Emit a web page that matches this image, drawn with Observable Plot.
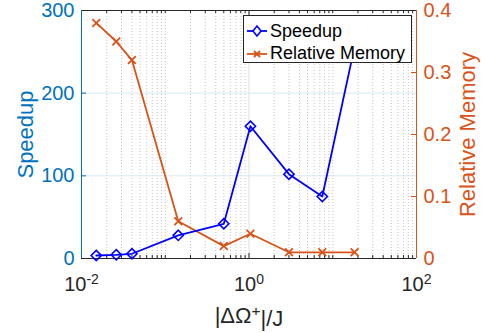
<!DOCTYPE html>
<html><head><meta charset="utf-8">
<script src="https://cdn.jsdelivr.net/npm/d3@7"></script>
<script src="https://cdn.jsdelivr.net/npm/@observablehq/plot@0.6"></script>
<style>
body{margin:0;background:#fff;}
#wrap{position:relative;width:485px;height:333px;font-family:"Liberation Sans",Arial,Helvetica,sans-serif;}
#legend{position:absolute;left:243px;top:15px;width:167px;height:46px;border:1px solid #262626;background:#fff;font-size:18px;color:#000;}
.row{position:absolute;left:2px;height:22px;display:flex;align-items:center;}
.row svg{margin-right:2px;}
</style></head><body><div id="wrap"><div id="legend"></div></div>
<script>
// ---- data ----
const xVals = [0.015, 0.026, 0.04, 0.143, 0.5, 1.04, 3.0, 7.5, 18.2];
const speedup = [3.6, 4.5, 5.7, 28, 42, 160, 102, 75, 256];
const relMemory = [0.38, 0.35, 0.32, 0.06, 0.02, 0.04, 0.01, 0.01, 0.01];
const seriesNames = ["Speedup", "Relative Memory"];
const xDomain = [0.01, 100];
const yDomain = [0, 300];
const memDomain = [0, 0.4];
const xMajorTicks = [0.01, 1, 100];
const yTicks = [0, 100, 200, 300];
const memTicks = [0, 0.1, 0.2, 0.3, 0.4];
const xLabel = "|ΔΩ^+|/J";
// ---- styles ----
const BLUE = "#0072BD", ORANGE = "#D95319", LINEBLUE = "#0000FF", DARK = "#262626";
const W = 485, H = 333, mL = 81, mR = 69, mT = 10, mB = 75;
const pw = W - mL - mR, ph = H - mT - mB;
const k = yDomain[1] / memDomain[1];
const FONT = '"Liberation Sans", Arial, Helvetica, sans-serif';

const xMinor = [];
for (let e = -2; e < 2; e++) for (let m = 1; m <= 9; m++) {
  const v = +(m * Math.pow(10, e)).toPrecision(3);
  if (!xMajorTicks.includes(v)) xMinor.push(v);
}
const data = xVals.map((x, i) => ({x, s: speedup[i], m: relMemory[i]}));
const gridY = yTicks.filter(t => t > yDomain[0] && t < yDomain[1]);
const gridX = xMajorTicks.filter(t => t > xDomain[0] && t < xDomain[1]);

const chart = Plot.plot({
  width: W, height: H,
  marginLeft: mL, marginRight: mR, marginTop: mT, marginBottom: mB,
  style: {fontFamily: FONT, background: "transparent"},
  x: {type: "log", domain: xDomain},
  y: {domain: yDomain},
  marks: [
    Plot.ruleX(xMinor, {stroke: "#b8b8b8", strokeDasharray: "1,2", strokeWidth: 0.8}),
    Plot.ruleX(gridX, {stroke: "#dfdfdf"}),
    Plot.ruleY(gridY, {stroke: "#d6e8f4"}),
    // inward ticks
    Plot.ruleX(xMinor, {stroke: DARK, insetTop: ph - 3}),
    Plot.ruleX(xMinor, {stroke: DARK, insetBottom: ph - 3}),
    Plot.ruleX(xMajorTicks, {stroke: DARK, insetTop: ph - 5}),
    Plot.ruleX(xMajorTicks, {stroke: DARK, insetBottom: ph - 5}),
    Plot.ruleY(yTicks, {stroke: BLUE, insetRight: pw - 5}),
    Plot.ruleY(memTicks.map(v => v * k), {stroke: ORANGE, insetLeft: pw - 5}),
    // frame
    Plot.ruleY([yDomain[1]], {stroke: DARK}),
    Plot.ruleY([yDomain[0]], {stroke: DARK}),
    Plot.ruleX([xDomain[0]], {stroke: BLUE}),
    Plot.ruleX([xDomain[1]], {stroke: ORANGE}),
    // series
    Plot.line(data, {x: "x", y: d => d.m * k, stroke: ORANGE, strokeWidth: 1.8}),
    Plot.dot(data, {x: "x", y: d => d.m * k, symbol: "times", r: 3.6, stroke: ORANGE, strokeWidth: 1.8}),
    Plot.line(data, {x: "x", y: "s", stroke: LINEBLUE, strokeWidth: 1.8}),
    Plot.dot(data, {x: "x", y: "s", symbol: "diamond2", r: 4.6, stroke: LINEBLUE, fill: "none", strokeWidth: 1.6}),
    // axes
    Plot.axisX({ticks: xMajorTicks, tickSize: 0, tickPadding: 18, fontSize: 20, color: DARK,
      tickFormat: d => "10^" + Math.round(Math.log10(d)), label: null}),
    Plot.axisY({ticks: yTicks, tickSize: 0, tickPadding: 7, fontSize: 20, color: BLUE, label: null}),
    Plot.axisY({anchor: "right", ticks: memTicks.map(v => v * k), tickSize: 0, tickPadding: 7, fontSize: 20, color: ORANGE,
      tickFormat: d => String(+(d / k).toFixed(2)), label: null}),
    // axis titles
    Plot.text([xLabel], {frameAnchor: "bottom", dy: 57, fill: DARK, fontSize: 22, lineAnchor: "middle", textAnchor: "middle"}),
    Plot.text([seriesNames[0]], {frameAnchor: "left", dx: -56, rotate: -90, fill: BLUE, fontSize: 22, lineAnchor: "middle", textAnchor: "middle"}),
    Plot.text([seriesNames[1]], {frameAnchor: "right", dx: 51, rotate: -90, fill: ORANGE, fontSize: 22, lineAnchor: "middle", textAnchor: "middle"})
  ]
});
document.getElementById("wrap").prepend(chart);
const svg = d3.select(chart.tagName === "svg" ? chart : chart.querySelector("svg"));
svg.style("position", "absolute").style("left", 0).style("top", 0).style("overflow", "visible");

// superscripts
function supify(node) {
  const t = node.textContent;
  const i = t.indexOf("^");
  if (i < 0) return;
  const sel = d3.select(node);
  const m = t.slice(i + 1).match(/^([-+\d]+)(.*)$/);
  sel.text("");
  sel.append("tspan").text(t.slice(0, i));
  sel.append("tspan").attr("dy", "-0.45em").attr("font-size", "0.7em").text(m[1]);
  if (m[2]) sel.append("tspan").attr("dy", "0.45em").text(m[2]);
}
svg.selectAll("text").each(function () { supify(this); });

// legend
const leg = document.getElementById("legend");
const items = [
  {name: seriesNames[0], color: LINEBLUE, sym: "diamond"},
  {name: seriesNames[1], color: ORANGE, sym: "times"}
];
items.forEach((it, i) => {
  const row = document.createElement("div");
  row.className = "row";
  row.style.top = (4 + i * 22.5) + "px";
  const s = d3.create("svg").attr("width", 22).attr("height", 22);
  s.append("line").attr("x1", 1).attr("x2", 21).attr("y1", 11).attr("y2", 11).attr("stroke", it.color).attr("stroke-width", 1.8);
  if (it.sym === "diamond") s.append("path").attr("d", "M11,6L15,11L11,16L7,11Z").attr("fill", "#fff").attr("stroke", it.color).attr("stroke-width", 1.6);
  else s.append("path").attr("d", "M8,8L14,14M14,8L8,14").attr("stroke", it.color).attr("stroke-width", 1.8);
  row.appendChild(s.node());
  const sp = document.createElement("span");
  sp.textContent = it.name;
  row.appendChild(sp);
  leg.appendChild(row);
});
</script></body></html>
